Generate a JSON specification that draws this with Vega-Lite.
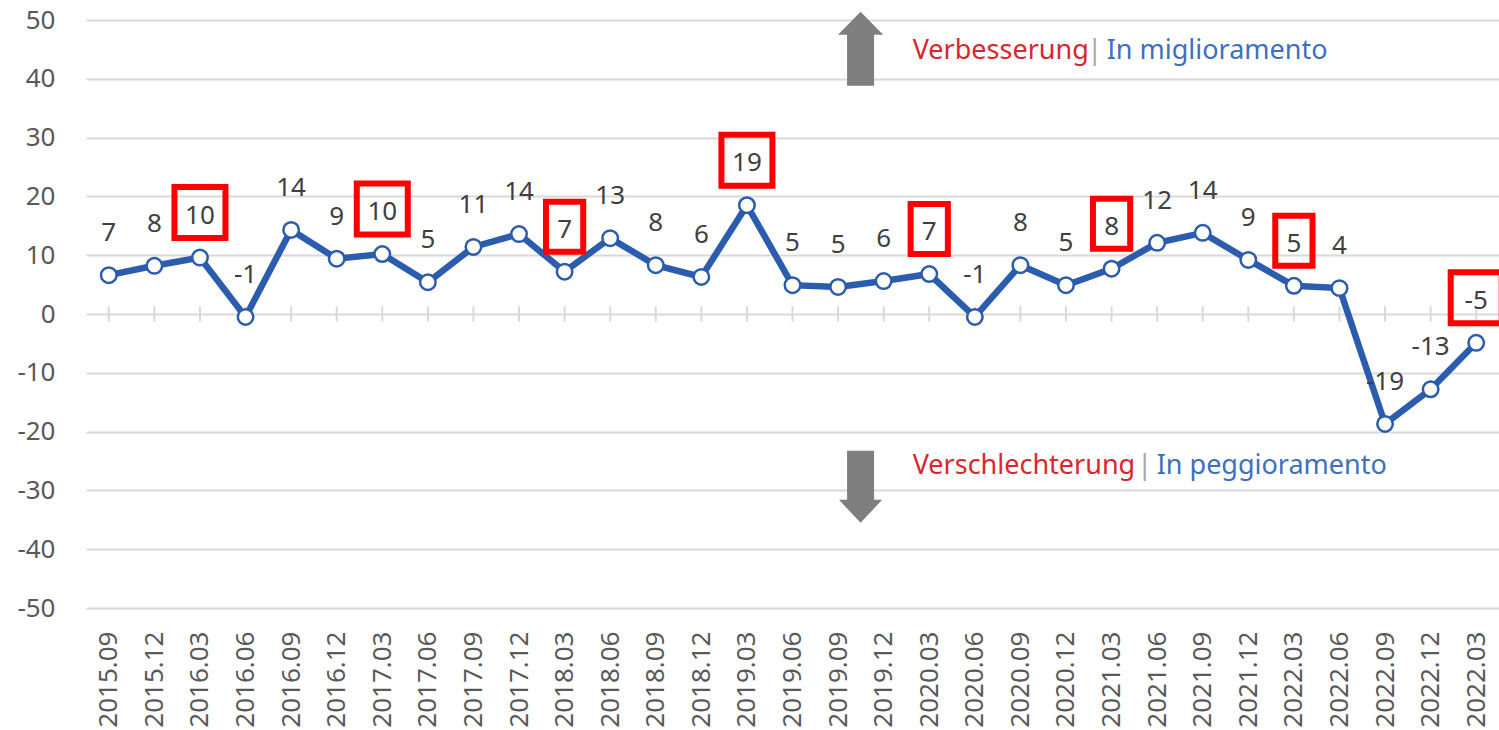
{
  "$schema": "https://vega.github.io/schema/vega-lite/v6.json",
  "autosize": "none",
  "width": 1413,
  "height": 588,
  "padding": {"left": 86, "top": 20, "right": 0, "bottom": 122},
  "background": "white",
  "config": {
    "view": {"stroke": null},
    "font": "Noto Sans",
    "axis": {"labelFont": "Noto Sans"}
  },
  "datasets": {
    "series": [
      {"period": "2015.09", "value": 6.6, "label": 7, "boxed": false},
      {"period": "2015.12", "value": 8.2, "label": 8, "boxed": false},
      {"period": "2016.03", "value": 9.6, "label": 10, "boxed": true},
      {"period": "2016.06", "value": -0.5, "label": -1, "boxed": false},
      {"period": "2016.09", "value": 14.3, "label": 14, "boxed": false},
      {"period": "2016.12", "value": 9.4, "label": 9, "boxed": false},
      {"period": "2017.03", "value": 10.2, "label": 10, "boxed": true},
      {"period": "2017.06", "value": 5.4, "label": 5, "boxed": false},
      {"period": "2017.09", "value": 11.4, "label": 11, "boxed": false},
      {"period": "2017.12", "value": 13.6, "label": 14, "boxed": false},
      {"period": "2018.03", "value": 7.2, "label": 7, "boxed": true},
      {"period": "2018.06", "value": 12.9, "label": 13, "boxed": false},
      {"period": "2018.09", "value": 8.3, "label": 8, "boxed": false},
      {"period": "2018.12", "value": 6.3, "label": 6, "boxed": false},
      {"period": "2019.03", "value": 18.5, "label": 19, "boxed": true},
      {"period": "2019.06", "value": 4.9, "label": 5, "boxed": false},
      {"period": "2019.09", "value": 4.6, "label": 5, "boxed": false},
      {"period": "2019.12", "value": 5.6, "label": 6, "boxed": false},
      {"period": "2020.03", "value": 6.8, "label": 7, "boxed": true},
      {"period": "2020.06", "value": -0.5, "label": -1, "boxed": false},
      {"period": "2020.09", "value": 8.3, "label": 8, "boxed": false},
      {"period": "2020.12", "value": 4.9, "label": 5, "boxed": false},
      {"period": "2021.03", "value": 7.7, "label": 8, "boxed": true},
      {"period": "2021.06", "value": 12.1, "label": 12, "boxed": false},
      {"period": "2021.09", "value": 13.8, "label": 14, "boxed": false},
      {"period": "2021.12", "value": 9.2, "label": 9, "boxed": false},
      {"period": "2022.03", "value": 4.8, "label": 5, "boxed": true},
      {"period": "2022.06", "value": 4.4, "label": 4, "boxed": false},
      {"period": "2022.09", "value": -18.7, "label": -19, "boxed": false},
      {"period": "2022.12", "value": -12.8, "label": -13, "boxed": false},
      {"period": "2022.03\u200b", "value": -4.9, "label": -5, "boxed": true}
    ],
    "notes": [
      {"pos": "up", "part": "de", "text": "Verbesserung", "period": "2019.12", "value": 44.7},
      {"pos": "up", "part": "sep", "text": "|", "period": "2019.12", "value": 44.7},
      {"pos": "up", "part": "it", "text": "In miglioramento", "period": "2019.12", "value": 44.7},
      {"pos": "down", "part": "de", "text": "Verschlechterung", "period": "2019.12", "value": -25.9},
      {"pos": "down", "part": "sep", "text": "|", "period": "2019.12", "value": -25.9},
      {"pos": "down", "part": "it", "text": "In peggioramento", "period": "2019.12", "value": -25.9}
    ],
    "arrows": [
      {"dir": "up", "period": "2019.09", "value": 45.1},
      {"dir": "down", "period": "2019.09", "value": -29.4}
    ]
  },
  "encoding": {
    "x": {
      "field": "period", "type": "nominal", "sort": null,
      "scale": {"type": "point", "padding": 0.5},
      "axis": {
        "title": null, "labelAngle": -90, "labelFontSize": 26, "labelColor": "#595959",
        "ticks": false, "domain": false, "labelPadding": 23, "grid": false
      }
    },
    "y": {
      "field": "value", "type": "quantitative",
      "scale": {"domain": [-50, 50], "nice": false, "zero": false},
      "axis": {
        "title": null, "values": [-50, -40, -30, -20, -10, 0, 10, 20, 30, 40, 50],
        "labelExpr": "'' + datum.value",
        "labelFontSize": 26, "labelColor": "#595959", "ticks": false, "domain": false,
        "labelPadding": 31, "gridColor": "#D9D9D9", "gridWidth": 2
      }
    }
  },
  "layer": [
    {
      "data": {"name": "series"},
      "mark": {"type": "rule", "color": "#D9D9D9", "strokeWidth": 2},
      "encoding": {"y": {"datum": 1.3}, "y2": {"datum": -1.3}}
    },
    {
      "data": {"name": "series"},
      "mark": {"type": "line", "color": "#2B5CAD", "strokeWidth": 6.5}
    },
    {
      "data": {"name": "series"},
      "mark": {"type": "point", "filled": true, "fill": "white", "stroke": "#2B5CAD", "strokeWidth": 2.5, "size": 240, "opacity": 1}
    },
    {
      "data": {"name": "series"},
      "mark": {"type": "text", "yOffset": -42, "fontSize": 26, "color": "#404040"},
      "encoding": {"text": {"field": "label", "type": "nominal"}}
    },
    {
      "data": {"name": "series"},
      "transform": [{"filter": "datum.boxed && length(toString(datum.label)) == 2"}],
      "mark": {"type": "point", "shape": "M-1,-1H1V1H-1Z", "size": 2601, "filled": false, "stroke": "#FF0000", "strokeWidth": 6, "yOffset": -45, "opacity": 1}
    },
    {
      "data": {"name": "series"},
      "transform": [{"filter": "datum.boxed && length(toString(datum.label)) == 1"}],
      "mark": {"type": "point", "shape": "M-0.745,-1H0.745V1H-0.745Z", "size": 2500, "filled": false, "stroke": "#FF0000", "strokeWidth": 6, "yOffset": -45, "opacity": 1}
    },
    {
      "data": {"name": "arrows"},
      "transform": [{"filter": "datum.dir == 'up'"}],
      "mark": {"type": "point", "shape": "M0,-1L0.61,-0.38H0.365V1H-0.365V-0.38H-0.61Z", "size": 5476, "filled": true, "color": "#7F7F7F", "opacity": 1, "xOffset": 22.5}
    },
    {
      "data": {"name": "arrows"},
      "transform": [{"filter": "datum.dir == 'down'"}],
      "mark": {"type": "point", "shape": "M0,1L0.6,0.36H0.375V-1H-0.375V0.36H-0.6Z", "size": 5184, "filled": true, "color": "#7F7F7F", "opacity": 1, "xOffset": 22.5}
    },
    {
      "data": {"name": "notes"},
      "transform": [{"filter": "datum.part == 'de'"}],
      "mark": {"type": "text", "align": "left", "baseline": "middle", "fontSize": 27, "color": "#D9262F", "xOffset": 29},
      "encoding": {"text": {"field": "text"}}
    },
    {
      "data": {"name": "notes"},
      "transform": [{"filter": "datum.part == 'sep' && datum.pos == 'up'"}],
      "mark": {"type": "text", "align": "center", "baseline": "middle", "fontSize": 27, "color": "#A6A6A6", "xOffset": 211},
      "encoding": {"text": {"field": "text"}}
    },
    {
      "data": {"name": "notes"},
      "transform": [{"filter": "datum.part == 'sep' && datum.pos == 'down'"}],
      "mark": {"type": "text", "align": "center", "baseline": "middle", "fontSize": 27, "color": "#A6A6A6", "xOffset": 261},
      "encoding": {"text": {"field": "text"}}
    },
    {
      "data": {"name": "notes"},
      "transform": [{"filter": "datum.part == 'it' && datum.pos == 'up'"}],
      "mark": {"type": "text", "align": "left", "baseline": "middle", "fontSize": 27, "color": "#3F6FBF", "xOffset": 223},
      "encoding": {"text": {"field": "text"}}
    },
    {
      "data": {"name": "notes"},
      "transform": [{"filter": "datum.part == 'it' && datum.pos == 'down'"}],
      "mark": {"type": "text", "align": "left", "baseline": "middle", "fontSize": 27, "color": "#3F6FBF", "xOffset": 273},
      "encoding": {"text": {"field": "text"}}
    }
  ]
}
